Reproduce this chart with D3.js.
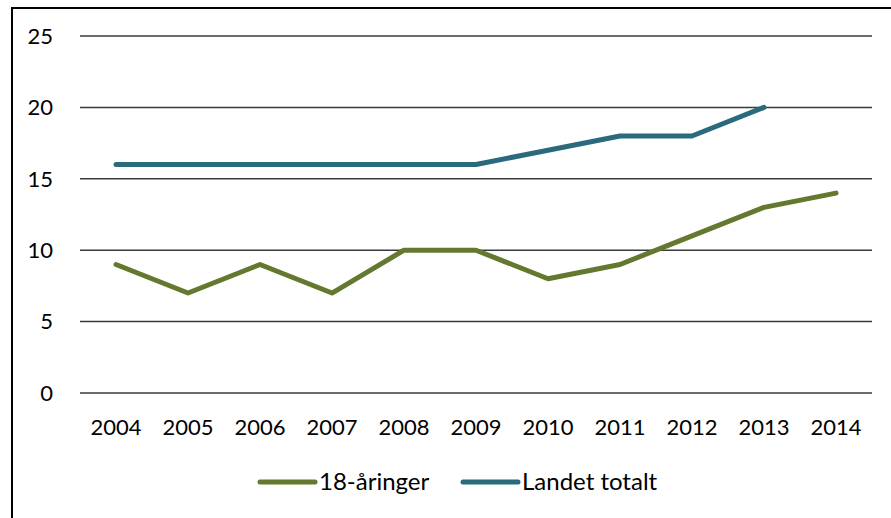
<!DOCTYPE html>
<html>
<head>
<meta charset="utf-8">
<script src="https://cdn.jsdelivr.net/npm/d3@7"></script>
<style>
  body { margin: 0; background: #fff; }
  svg { display: block; }
  text { font-family: Lato, "Open Sans", sans-serif; fill: #000; }
</style>
</head>
<body>
<svg width="891" height="518"></svg>
<script>
const years = ["2004","2005","2006","2007","2008","2009","2010","2011","2012","2013","2014"];
const aaringer = [9, 7, 9, 7, 10, 10, 8, 9, 11, 13, 14];
const landet = [16, 16, 16, 16, 16, 16, 17, 18, 18, 20, null];
const yTicks = [0, 5, 10, 15, 20, 25];
const seriesNames = ["18-åringer", "Landet totalt"];
const seriesColors = ["#63792f", "#2a6a7c"];

const svg = d3.select("svg");

// ramme
svg.append("rect")
    .attr("x", 12).attr("y", 8)
    .attr("width", 900).attr("height", 540)
    .attr("fill", "none")
    .attr("stroke", "#000")
    .attr("stroke-width", 2);

const x = d3.scaleBand().domain(years).range([80, 872]);
const y = d3.scaleLinear().domain([0, 25]).range([393, 36]);

// rutenett
svg.append("g").selectAll("line")
    .data(yTicks)
    .enter().append("line")
    .attr("x1", 80).attr("x2", 872)
    .attr("y1", d => y(d)).attr("y2", d => y(d))
    .attr("stroke", "#3a3a3a")
    .attr("stroke-width", 1.5);

svg.append("g").selectAll("text")
    .data(yTicks)
    .enter().append("text")
    .attr("x", 53)
    .attr("y", d => y(d))
    .attr("dy", "0.35em")
    .attr("text-anchor", "end")
    .attr("font-size", 22)
    .text(d => d);

svg.append("g").selectAll("text")
    .data(years)
    .enter().append("text")
    .attr("x", d => x(d) + x.bandwidth() / 2)
    .attr("y", 427)
    .attr("dy", "0.35em")
    .attr("text-anchor", "middle")
    .attr("font-size", 22)
    .text(d => d);

const line = d3.line()
    .defined(d => d != null)
    .x((d, i) => x(years[i]) + x.bandwidth() / 2)
    .y(d => y(d));

[aaringer, landet].forEach((s, i) => {
    svg.append("path")
        .datum(s)
        .attr("d", line)
        .attr("fill", "none")
        .attr("stroke", seriesColors[i])
        .attr("stroke-width", 5)
        .attr("stroke-linejoin", "round")
        .attr("stroke-linecap", "round");
});

// forklaring
const legendX = [260, 463];
seriesNames.forEach((n, i) => {
    const g = svg.append("g").attr("transform", `translate(${legendX[i]},482)`);
    g.append("line")
        .attr("x1", 0).attr("x2", 55)
        .attr("stroke", seriesColors[i])
        .attr("stroke-width", 5)
        .attr("stroke-linecap", "round");
    g.append("text")
        .attr("x", 59)
        .attr("dy", "0.35em")
        .attr("font-size", 24)
        .text(n);
});
</script>
</body>
</html>
